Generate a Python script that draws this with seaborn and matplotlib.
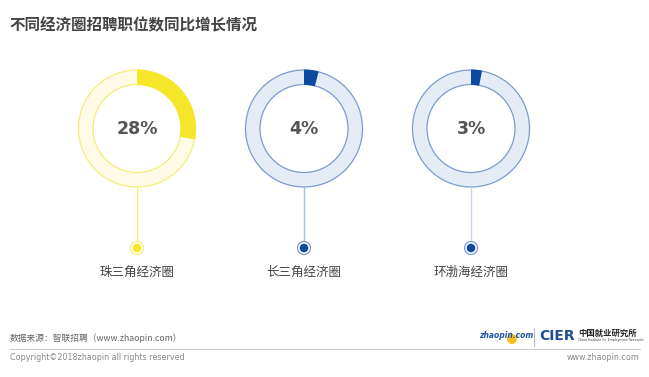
import numpy as np
import pandas as pd
import seaborn as sns
import matplotlib.pyplot as plt
from matplotlib.patches import Circle

# datos
regiones = ['珠三角经济圈', '长三角经济圈', '环渤海经济圈']
crecimiento = [28, 4, 3]
titulo = '不同经济圈招聘职位数同比增长情况'
fuente = '数据来源：智联招聘（www.zhaopin.com）'
copyright_txt = 'Copyright©2018zhaopin all rights reserved'

sns.set_theme(style='white')
plt.rcParams['font.family'] = ['Noto Sans CJK SC', 'DejaVu Sans']

# colores: (principal, fondo, borde, linea)
estilos = [
    ('#F5E62A', '#FFFBE6', '#F6EC7A', '#F6EC7A'),
    ('#0B4A9E', '#E6ECF6', '#7C9BD2', '#A8BDE0'),
    ('#0B4A9E', '#E6ECF6', '#7C9BD2', '#C9D6EC'),
]

W, H = 649, 377
fig = plt.figure(figsize=(W / 100, H / 100), dpi=100)
ax = fig.add_axes([0, 0, 1, 1])

def py(y):
    return H - y

ax.text(10, py(25), titulo, fontsize=11.2, fontweight='bold', color='#444444',
        va='center', ha='left')

r_out, ancho = 58.5, 14.5
cy = py(128.5)
for i, (reg, val) in enumerate(zip(regiones, crecimiento)):
    cx = 137 + i * 167
    fg, bg, borde, linea = estilos[i]
    # anillo de fondo
    ax.pie([1], colors=[bg], radius=r_out, center=(cx, cy),
           wedgeprops=dict(width=ancho, edgecolor=borde, linewidth=0.9),
           frame=True)
    # segmento de crecimiento
    ax.pie([val, 100 - val], colors=[fg, (0, 0, 0, 0)], radius=r_out + 0.4,
           center=(cx, cy), startangle=90, counterclock=False,
           wedgeprops=dict(width=ancho + 0.8, linewidth=0), frame=True)
    ax.text(cx, cy, f'{val}%', fontsize=12.5, fontweight='bold', color='#555555',
            ha='center', va='center', family=['DejaVu Sans'])
    # linea y punto
    ax.plot([cx, cx], [cy - r_out, py(248)], color=linea, lw=1, zorder=1)
    ax.add_patch(Circle((cx, py(248)), 6.5, facecolor='white', edgecolor=borde,
                        lw=0.9, zorder=3))
    ax.add_patch(Circle((cx, py(248)), 4.3, facecolor=fg, edgecolor='none', zorder=4))
    ax.text(cx, py(272), reg, fontsize=9, color='#444444', ha='center', va='center')

ax.set_xlim(0, W)
ax.set_ylim(0, H)
ax.set_aspect('auto')
ax.axis('off')

# pie de pagina
ax.text(10, py(338), fuente, fontsize=6.3, color='#666666', ha='left', va='center')
ax.plot([10, 640], [py(349), py(349)], color='#CCCCCC', lw=0.8)
ax.text(10, py(358), copyright_txt, fontsize=5.8, color='#888888', ha='left', va='center',
        family=['DejaVu Sans'])
ax.text(640, py(358), 'www.zhaopin.com', fontsize=5.8, color='#888888', ha='right',
        va='center', family=['DejaVu Sans'])

# logos
ax.add_patch(Circle((512, py(339)), 5, facecolor='#F6C21C', edgecolor='none', zorder=2))
ax.text(506, py(336), 'zhaopin.com', fontsize=5.5, color='#1E56A8', fontweight='bold',
        style='italic', ha='center', va='center', family=['DejaVu Sans'], zorder=3)
ax.plot([534, 534], [py(328), py(346)], color='#BBBBBB', lw=0.8)
ax.text(539, py(336), 'CIER', fontsize=10, color='#1E4E96', fontweight='bold',
        ha='left', va='center', family=['DejaVu Sans'])
ax.text(578, py(333), '中国就业研究所', fontsize=6, color='#222222', fontweight='bold',
        ha='left', va='center')
ax.text(578, py(340.5), 'China Institute for Employment Research', fontsize=2.3,
        color='#444444', ha='left', va='center', family=['DejaVu Sans'])

fig.savefig('out.png', dpi=100)
